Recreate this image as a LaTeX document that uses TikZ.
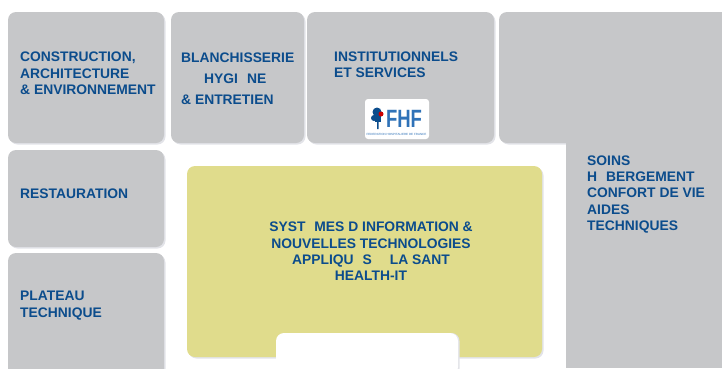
\documentclass[tikz,border=0pt]{standalone}
\usepackage{graphicx}
\usepackage{fontspec}
\setmainfont{Liberation Sans}
\definecolor{panelgrey}{HTML}{C6C7C9}
\definecolor{panelshade}{HTML}{E2E3E8}
\definecolor{paneltext}{HTML}{0B4C8C}
\definecolor{healthyellow}{HTML}{E0DC8C}
\definecolor{logoblue}{HTML}{2F72B8}
\tikzset{
  panel/.style={fill=panelgrey, rounded corners=8pt},
  healthpanel/.style={fill=healthyellow, rounded corners=8pt},
  panelback/.style={fill=panelshade, rounded corners=8pt, shift={(1.5,1.5)}},
  label/.style={anchor=west, align=left, text=paneltext, inner sep=0pt,
    font=\fontsize{13.85}{16.4}\selectfont\bfseries},
  centerlabel/.style={label, anchor=center, align=center}
}
\begin{document}
\begin{tikzpicture}[x=1pt, y=-1pt]
  \useasboundingbox (0,0) rectangle (722,368);
  % shaded edges
  \path[panelback] (8,12) rectangle (164,143);
  \path[panelback] (171,12) rectangle (304,143);
  \path[panelback] (307,12) rectangle (494,143);
  \path[panelback] (8,150) rectangle (164,247);
  \path[panelback] (8,253) rectangle (164,380);
  \path[panelback] (499,12) rectangle (730,143);
  \path[panelback] (187,166) rectangle (542,357);
  % grey panels
  \path[panel] (8,12) rectangle (164,143);
  \path[panel] (171,12) rectangle (304,143);
  \path[panel] (307,12) rectangle (494,143);
  \path[panel] (8,150) rectangle (164,247);
  \path[panel] (8,253) rectangle (164,380);
  \path[panel] (499,12) rectangle (730,143);
  \path[fill=panelgrey] (566,100) rectangle (722,368);
  % yellow panel with its notch
  \path[healthpanel] (187,166) rectangle (542,357);
  \path[panelback] (276,331.5) rectangle (458,375);
  \path[fill=white, rounded corners=8pt] (276,333) rectangle (458,375);
  % labels
  \node[label] (construction) at (20,73.5) {CONSTRUCTION,\\ARCHITECTURE\\\& ENVIRONNEMENT};
  \node[label] (blanchisserie) at (181,58) {BLANCHISSERIE};
  \node[label] (hygiene) at (204,79) {HYGI\hspace{9pt}NE};
  \node[label] (entretien) at (181,100) {\& ENTRETIEN};
  \node[label] (institutionnels) at (334,65) {INSTITUTIONNELS\\ET SERVICES};
  \node[label] (restauration) at (20,194) {RESTAURATION};
  \node[label] (plateau) at (20,305.5) {PLATEAU\\TECHNIQUE};
  \node[label] (soins) at (587,194.5) {SOINS\\H\hspace{9pt}BERGEMENT\\CONFORT DE VIE\\AIDES\\TECHNIQUES};
  \node[centerlabel] (systemes) at (371,251.5) {SYST\hspace{9pt}MES D INFORMATION \&\\NOUVELLES TECHNOLOGIES\\APPLIQU\hspace{9pt}S\hspace{18pt}LA SANT\hspace*{7pt}\\HEALTH-IT};
  % logo
  \path[fill=white, rounded corners=3pt] (365,99) rectangle (429,139);
  \node[text=logoblue, inner sep=0pt, font=\fontsize{25}{25}\selectfont\bfseries] (fhf) at (404,118.5) {\scalebox{.74}[1]{FHF}};
  \path[fill=paneltext] (377,112) circle (4.5) (374,118) circle (3) (377,122) rectangle (378.5,129);
  \path[fill=paneltext] (375,116) rectangle (381,122);
  \path[fill=red!80!black] (381,114) circle (2.5);
  \node[text=logoblue, inner sep=0pt, font=\fontsize{3}{4}\selectfont] (federation) at (396.5,134.5) {FEDERATION HOSPITALIERE DE FRANCE};
\end{tikzpicture}
\end{document}
